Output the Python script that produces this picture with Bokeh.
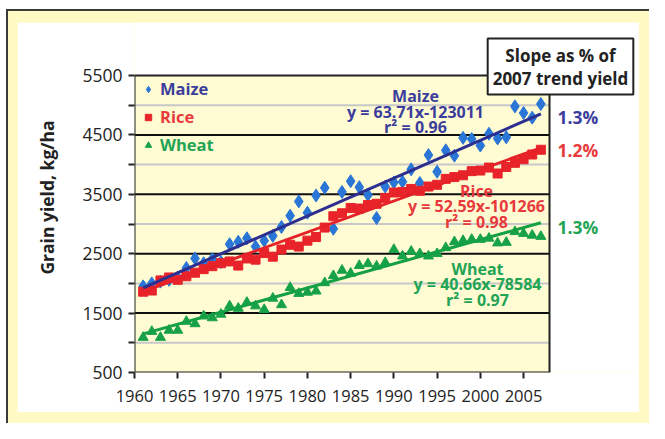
from bokeh.plotting import figure
from bokeh.layouts import column
from bokeh.models import (Range1d, FixedTicker, Label, Legend, LegendItem)
from bokeh.embed import file_html
from bokeh.resources import INLINE

years = list(range(1961, 2008))
maize = [1950, 2000, 2030, 2060, 2100, 2260, 2420, 2340, 2410, 2360,
         2660, 2700, 2760, 2620, 2720, 2800, 2950, 3140, 3380, 3190,
         3480, 3610, 2920, 3540, 3720, 3620, 3490, 3100, 3630, 3700,
         3710, 3920, 3690, 4160, 3880, 4240, 4150, 4450, 4430, 4320,
         4520, 4440, 4460, 4980, 4870, 4790, 5020]
rice = [1860, 1880, 2050, 2100, 2060, 2120, 2180, 2240, 2290, 2340,
        2370, 2300, 2420, 2400, 2510, 2450, 2570, 2650, 2620, 2720,
        2780, 2940, 3130, 3180, 3270, 3260, 3320, 3340, 3440, 3530,
        3540, 3590, 3560, 3630, 3660, 3760, 3790, 3820, 3890, 3900,
        3950, 3850, 3960, 4030, 4090, 4170, 4250]
wheat = [1090, 1190, 1090, 1210, 1210, 1360, 1320, 1450, 1420, 1480,
         1620, 1580, 1680, 1620, 1560, 1750, 1640, 1930, 1830, 1850,
         1870, 2010, 2130, 2220, 2170, 2300, 2330, 2290, 2350, 2570,
         2460, 2540, 2500, 2460, 2500, 2600, 2700, 2720, 2740, 2740,
         2760, 2680, 2690, 2870, 2840, 2810, 2790]

crops = ["Maize", "Rice", "Wheat"]
slopes = [63.71, 52.59, 40.66]
intercepts = [-123011, -101266, -78584]
r2 = ["0.96", "0.98", "0.97"]
pct = ["1.3%", "1.2%", "1.3%"]
eq_text = ["y = 63.71x-123011", "y = 52.59x-101266", "y = 40.66x-78584"]
x_ticks = [1960, 1965, 1970, 1975, 1980, 1985, 1990, 1995, 2000, 2005]
y_ticks = [500, 1500, 2500, 3500, 4500, 5500]
y_minor = [1000, 2000, 3000, 4000, 5000]
x_lo, x_hi = 1960, 2008
y_lo, y_hi = 500, 5500

marker_col = ["#2a76d6", "#e8232a", "#17a24a"]
line_col = ["#2c2f90", "#e52228", "#14a043"]
text_col = ["#3b3d9c", "#e8393c", "#22a455"]

FONT = "Open Sans"

# frame spans the whole figure to the right and top so that the side notes are not clipped;
# the plot box itself (1960-2008, 500-5500) is drawn as a quad.
PX_YEAR = 8.646
PX_VAL = 0.0594
W, H = 622, 390
LEFT, BOTTOM = 117, 40
x_end = x_lo + (W - LEFT) / PX_YEAR
y_end = y_lo + (H - BOTTOM) / PX_VAL

p = figure(width=W, height=H, output_backend="svg", toolbar_location=None,
           x_range=Range1d(x_lo, x_end), y_range=Range1d(y_lo, y_end),
           min_border_left=LEFT, min_border_right=0, min_border_top=0,
           min_border_bottom=BOTTOM)
p.background_fill_color = "white"
p.border_fill_color = "white"
p.outline_line_color = None
p.xgrid.visible = False
p.ygrid.visible = False

p.xaxis.ticker = FixedTicker(ticks=x_ticks)
p.yaxis.ticker = FixedTicker(ticks=y_ticks, minor_ticks=y_minor)
for ax in (p.xaxis[0], p.yaxis[0]):
    ax.axis_line_color = None
    ax.major_tick_line_color = "#222222"
    ax.major_tick_line_width = 2
    ax.major_tick_out = 6
    ax.major_tick_in = 0
    ax.major_label_text_font = FONT
    ax.major_label_text_color = "#222222"
p.xaxis.minor_tick_line_color = None
p.yaxis.minor_tick_line_color = "#222222"
p.yaxis.minor_tick_line_width = 2
p.yaxis.minor_tick_out = 6
p.yaxis.minor_tick_in = 0
p.xaxis.major_label_text_font_size = "16.5px"
p.yaxis.major_label_text_font_size = "17.5px"
p.xaxis.major_label_standoff = 11
p.yaxis.major_label_standoff = 6
p.yaxis.axis_label = "Grain yield, kg/ha"
p.yaxis.axis_label_text_font = FONT
p.yaxis.axis_label_text_font_style = "bold"
p.yaxis.axis_label_text_font_size = "17.5px"
p.yaxis.axis_label_text_color = "#222222"
p.yaxis.axis_label_standoff = 20

# plot box background
p.quad(left=[x_lo], right=[x_hi], bottom=[y_lo], top=[y_hi],
       fill_color="#fffbd2", line_color=None)
# grid lines
p.segment(x0=[x_lo] * len(y_minor), x1=[x_hi] * len(y_minor), y0=y_minor, y1=y_minor,
          line_color="#c8c8c8", line_width=2)
major_inner = y_ticks[1:-1]
p.segment(x0=[x_lo] * len(major_inner), x1=[x_hi] * len(major_inner),
          y0=major_inner, y1=major_inner, line_color="#111111", line_width=2)

series = [maize, rice, wheat]
markers = ["diamond", "square", "triangle"]
sizes = [13, 9, 10]
renderers = []
for i, vals in enumerate(series):
    r = p.scatter(years, vals, marker=markers[i], size=sizes[i],
                  fill_color=marker_col[i], line_color=marker_col[i])
    renderers.append(r)

for i in range(3):
    x0, x1 = years[0], years[-1]
    p.line([x0, x1], [slopes[i] * x0 + intercepts[i], slopes[i] * x1 + intercepts[i]],
           line_color=line_col[i], line_width=3)

# plot box outline
p.quad(left=[x_lo], right=[x_hi], bottom=[y_lo], top=[y_hi],
       fill_color=None, line_color="#222222", line_width=2)

# legends
leg_y = [272, 244, 216]
for i in range(3):
    lg = Legend(items=[LegendItem(label=crops[i], renderers=[renderers[i]])],
                location=(6, leg_y[i]), orientation="vertical",
                background_fill_alpha=0, border_line_alpha=0,
                padding=0, margin=0, spacing=0,
                glyph_width=16, glyph_height=16, label_height=16,
                label_standoff=4, label_text_font=FONT,
                label_text_font_size="16.5px", label_text_font_style="bold",
                label_text_color=text_col[i])
    p.add_layout(lg)


def lab(x, y, text, color, size, align="center", **kw):
    p.add_layout(Label(x=x, y=y, x_units="canvas", y_units="canvas", text=text,
                       text_align=align, text_baseline="middle",
                       text_font=FONT, text_font_style="bold",
                       text_font_size=size, text_color=color, **kw))


ann_x = [398, 459, 460]
ann_y = [73.5, 168, 246]
line_off = [0, 15.5, 31]
for i in range(3):
    lines = [crops[i], eq_text[i], "r\u00b2 = " + r2[i]]
    for k, t in enumerate(lines):
        lab(ann_x[i], ann_y[i] + line_off[k], t, text_col[i], "16px")

pct_y = [94, 127, 204]
for i in range(3):
    lab(540, pct_y[i], pct[i], text_col[i], "17.5px", align="left")

lab(543, 44, "Slope as % of\n2007 trend yield", "#222222", "17px",
    background_fill_color="white", border_line_color="#222222",
    border_line_width=2, padding=5, text_line_height=1.0)

layout = column(p, styles={"background-color": "#fff9c4",
                           "padding": "22px 10px 11px 17px",
                           "box-shadow": "inset 6px 9px 0 0 white, inset 8px 11px 0 0 #3a3a3a"})

open("out.html", "w").write(file_html(layout, INLINE))
